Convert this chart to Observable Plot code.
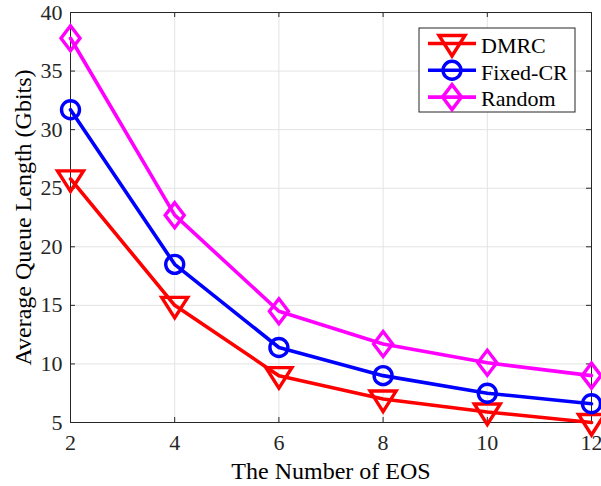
<!DOCTYPE html>
<html><head><meta charset="utf-8">
<script src="https://cdn.jsdelivr.net/npm/d3@7"></script>
<script src="https://cdn.jsdelivr.net/npm/@observablehq/plot@0.6"></script>
<style>
body{margin:0;background:#fff}
#chart{position:relative;width:601px;height:486px;overflow:hidden}
</style>
</head><body><div id="chart"></div>
<script>
// ---- data ----
const eos = [2, 4, 6, 8, 10, 12];
const dmrc = [25.8, 15.0, 9.0, 7.0, 5.9, 5.0];
const fixedCR = [31.7, 18.5, 11.4, 9.0, 7.5, 6.6];
const randomS = [37.8, 22.7, 14.5, 11.7, 10.1, 9.0];
const seriesNames = ["DMRC", "Fixed-CR", "Random"];
const seriesColors = ["#ff0000", "#0000ff", "#ff00ff"];
const xTicks = [2, 4, 6, 8, 10, 12];
const yTicks = [5, 10, 15, 20, 25, 30, 35, 40];
const xLabel = "The Number of EOS";
const yLabel = "Average Queue Length (Gbits)";

// ---- custom MATLAB-like markers ----
const triDown = {draw(ctx, size) {
  const r = Math.sqrt(size / Math.PI);
  ctx.moveTo(-1.3 * r, -0.8 * r); ctx.lineTo(1.3 * r, -0.8 * r); ctx.lineTo(0, 1.25 * r); ctx.closePath();
}};
const circ = {draw(ctx, size) {
  const r = Math.sqrt(size / Math.PI) * 0.9;
  ctx.moveTo(r, 0); ctx.arc(0, 0, r, 0, 2 * Math.PI); ctx.closePath();
}};
const diam = {draw(ctx, size) {
  const r = Math.sqrt(size / Math.PI);
  ctx.moveTo(0, -1.25 * r); ctx.lineTo(0.95 * r, 0); ctx.lineTo(0, 1.25 * r); ctx.lineTo(-0.95 * r, 0); ctx.closePath();
}};
const symbols = [triDown, circ, diam];

const seriesValues = [dmrc, fixedCR, randomS];
const rows = [];
seriesNames.forEach((name, i) => eos.forEach((x, j) => rows.push({series: name, x, y: seriesValues[i][j]})));

const W = 601, H = 486, mL = 70, mR = 10, mT = 12, mB = 64;
const fw = W - mL - mR, fh = H - mT - mB;
const font = "'Liberation Serif', 'Times New Roman', serif";
const ink = "#262626";

const marks = [
  Plot.gridX(xTicks, {stroke: "#e3e3e3", strokeOpacity: 1}),
  Plot.gridY(yTicks, {stroke: "#e3e3e3", strokeOpacity: 1}),
  // inward ticks
  Plot.gridX(xTicks, {stroke: ink, strokeOpacity: 1, insetTop: fh - 5}),
  Plot.gridX(xTicks, {stroke: ink, strokeOpacity: 1, insetBottom: fh - 5}),
  Plot.gridY(yTicks, {stroke: ink, strokeOpacity: 1, insetRight: fw - 5}),
  Plot.gridY(yTicks, {stroke: ink, strokeOpacity: 1, insetLeft: fw - 5}),
  Plot.frame({stroke: ink, strokeWidth: 1}),
  Plot.axisX(xTicks, {anchor: "bottom", tickSize: 0, tickPadding: 12, fontSize: 22, fill: ink, label: null}),
  Plot.axisY(yTicks, {anchor: "left", tickSize: 0, tickPadding: 8, fontSize: 22, fill: ink, label: null}),
  Plot.text([xLabel], {frameAnchor: "bottom", dy: 49, textAnchor: "middle", lineAnchor: "middle", fontSize: 24, fill: "#000", text: d => d}),
  Plot.text([yLabel], {frameAnchor: "left", dx: -47, rotate: -90, textAnchor: "middle", lineAnchor: "middle", fontSize: 24, fill: "#000", text: d => d}),
  Plot.line(rows, {x: "x", y: "y", z: "series", stroke: "series", strokeWidth: 3.6, strokeLinejoin: "round"})
];
seriesNames.forEach((name, i) => {
  marks.push(Plot.dot(rows.filter(d => d.series === name), {
    x: "x", y: "y", r: 10, symbol: symbols[i], stroke: seriesColors[i], fill: "none", strokeWidth: 3.4
  }));
});

const chart = Plot.plot({
  width: W, height: H,
  marginLeft: mL, marginRight: mR, marginTop: mT, marginBottom: mB,
  x: {domain: [2, 12], axis: null},
  y: {domain: [5, 40], axis: null},
  color: {domain: seriesNames, range: seriesColors},
  style: {fontFamily: font, background: "white", overflow: "visible"},
  marks
});
document.getElementById("chart").appendChild(chart);

// ---- legend ----
const svg = d3.select(chart);
const lg = svg.append("g").attr("class", "legend").attr("text-anchor", "start");
const lx = 419, ly = 28, lw = 156, lh = 84, step = 26.8;
lg.append("rect").attr("x", lx).attr("y", ly).attr("width", lw).attr("height", lh)
  .attr("fill", "white").attr("stroke", ink).attr("stroke-width", 1);
seriesNames.forEach((name, i) => {
  const cy = ly + 15.5 + i * step;
  lg.append("line").attr("x1", lx + 9).attr("x2", lx + 57).attr("y1", cy).attr("y2", cy)
    .attr("stroke", seriesColors[i]).attr("stroke-width", 3.6);
  lg.append("path").attr("d", d3.symbol(symbols[i], 100 * Math.PI)())
    .attr("transform", `translate(${lx + 33},${cy})`)
    .attr("fill", "none").attr("stroke", seriesColors[i]).attr("stroke-width", 3.4);
  lg.append("text").attr("x", lx + 62).attr("y", cy).attr("dy", "0.42em")
    .attr("text-anchor", "start")
    .style("font-size", "22px").style("font-family", font).attr("fill", "#000").text(name);
});
</script>
</body></html>
